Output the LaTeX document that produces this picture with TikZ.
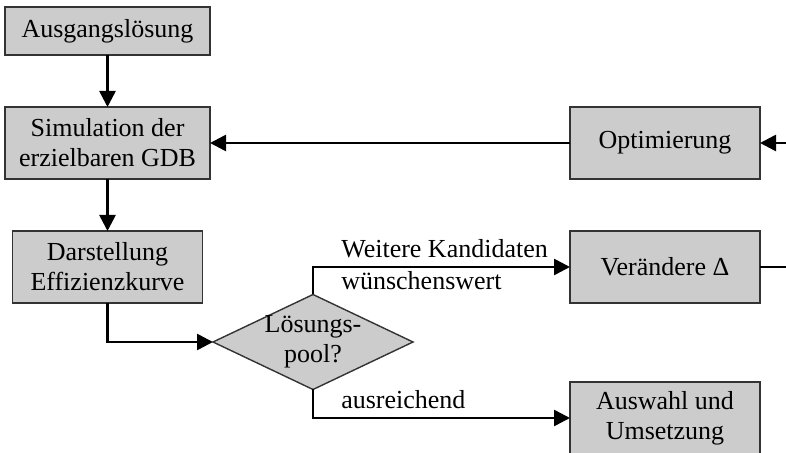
\documentclass[tikz,border=0pt]{standalone}
\usepackage{fontspec}
\setmainfont{Liberation Serif}
\usetikzlibrary{arrows.meta, positioning, shapes.geometric}
\definecolor{cfill}{HTML}{CCCCCC}
\definecolor{cedge}{HTML}{333333}
\tikzset{
  every picture/.style={x=1pt, y=1pt, font=\fontsize{26}{30}\selectfont, line width=2.6pt},
  box/.style={draw=cedge, fill=cfill, line width=1.4pt, align=center, inner sep=0pt, outer sep=0pt, minimum width=#1, minimum height=72pt},
  box/.default=190pt,
  decision/.style={diamond, draw=cedge, fill=cfill, line width=1.4pt, align=center, inner sep=-2.5pt, outer sep=0pt, shape aspect=2.1, minimum width=200pt, minimum height=95pt},
  arrow/.style={-{Triangle[length=16pt, width=16pt]}, draw=black, line width=2.6pt},
  note/.style={inner sep=0pt, anchor=base west},
}

\begin{document}
\begin{tikzpicture}
  \useasboundingbox (0,0) rectangle (786,452);
  \node[box=205pt, minimum height=48pt] (start) at (107.5,421) {Ausgangslösung};
  \node[box=205pt, below=52pt of start] (sim) {Simulation der\\erzielbaren GDB};
  \node[box, below=52pt of sim] (plot) {Darstellung\\Effizienzkurve};
  \node[box, right=360pt of sim] (opt) {Optimierung};
  \node[box, below=52pt of opt] (delta) {Verändere Δ};
  \node[decision] (pool) at (313,110) {Lösungs-\\pool?};
  \node[box] (pick) at (665,34) {Auswahl und\\Umsetzung};
  % loop runs on past the right edge
  \coordinate (feedin) at (786,309);
  \coordinate (feedout) at (786,185);
  \draw[arrow] (start) -- (sim);
  \draw[arrow] (sim) -- (plot);
  \draw[arrow] (opt) -- (sim);
  \draw[arrow] (feedin) -- (opt);
  \draw (delta.east) -- (feedout);
  \draw[arrow] (plot.south) |- (pool.west);
  \draw[arrow] (pool.north) |- (delta.west);
  \draw[arrow] (pool.south) |- (pick.west);
  \node[note] (more) at (340,194) {Weitere Kandidaten};
  \node[note] (wish) at (340,162) {wünschenswert};
  \node[note] (enough) at (340,44) {ausreichend};
\end{tikzpicture}
\end{document}
